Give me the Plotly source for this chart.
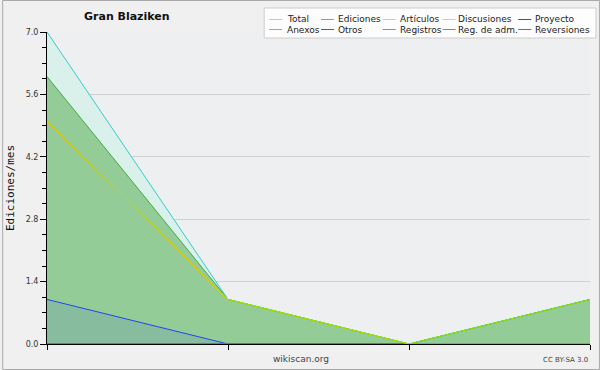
import plotly.graph_objects as go

months = [0, 1, 2, 3]
total = [7, 1, 0, 1]
ediciones = [6, 1, 0, 1]
articulos = [5, 1, 0, 1]
discusiones = [5, 1, 0, 0]
proyecto = [0, 0, 0, 0]
anexos = [0, 0, 0, 0]
otros = [0, 0, 0, 0]
registros = [1, 0, 0, 0]
reg_adm = [0, 0, 0, 0]
reversiones = [0, 0, 0, 0]

series_names = ["Total", "Ediciones", "Artículos", "Discusiones", "Proyecto",
                "Anexos", "Otros", "Registros", "Reg. de adm.", "Reversiones"]
legend_colors = ["#88dddd", "#66bb66", "#bbee33", "#ffcc33", "#555555",
                 "#ff8844", "#8833dd", "#7788ff", "#dd44ee", "#ff3333"]
y_ticks = [0, 1.4, 2.8, 4.2, 5.6, 7.0]
y_tick_text = ["0.0", "1.4", "2.8", "4.2", "5.6", "7.0"]


def px(xp):
    return (xp - 45) / 545


def py(yp):
    return (344 - yp) / 312


fig = go.Figure()

# Filled areas
fig.add_trace(go.Scatter(x=months, y=total, mode="lines", line=dict(color="#33cccc", width=1),
                         fill="tozeroy", fillcolor="#d9f1ea", showlegend=False))
fig.add_trace(go.Scatter(x=months, y=ediciones, mode="lines", line=dict(color="#44aa44", width=1),
                         fill="tozeroy", fillcolor="#94cc97", showlegend=False))
fig.add_trace(go.Scatter(x=months, y=registros, mode="lines", line=dict(color="#2244ee", width=1),
                         fill="tozeroy", fillcolor="rgba(30,60,230,0.10)", showlegend=False))
# Lines
for ys, col in [(proyecto, "#555555"), (anexos, "#ff8844"), (otros, "#8833dd"),
                (reg_adm, "#dd44ee"), (reversiones, "#ff3333")]:
    fig.add_trace(go.Scatter(x=months, y=ys, mode="lines", line=dict(color=col, width=1), showlegend=False))
fig.add_trace(go.Scatter(x=months, y=discusiones, mode="lines", line=dict(color="#eec400", width=1),
                         showlegend=False))
fig.add_trace(go.Scatter(x=months, y=articulos, mode="lines", line=dict(color="#88e800", width=1),
                         showlegend=False))
fig.add_trace(go.Scatter(x=months[:2], y=discusiones[:2], mode="lines", line=dict(color="#eec400", width=1),
                         showlegend=False))

shapes = [
    dict(type="rect", xref="paper", yref="paper", x0=px(0.5), x1=px(599.5), y0=py(369.5), y1=py(0.5),
         line=dict(color="#aaaaaa", width=1), fillcolor="rgba(0,0,0,0)", layer="below"),
]
annotations = [
    dict(text="<b>Gran Blaziken</b>", xref="paper", yref="paper", x=px(125), y=py(17),
         showarrow=False, font=dict(family="DejaVu Sans", size=11, color="#111"), xanchor="center", yanchor="middle"),
    dict(text="wikiscan.org", xref="paper", yref="paper", x=px(300), y=py(359),
         showarrow=False, font=dict(family="DejaVu Sans", size=9, color="#444"), xanchor="center", yanchor="middle"),
    dict(text="CC BY-SA 3.0", xref="paper", yref="paper", x=px(590), y=py(360),
         showarrow=False, font=dict(family="DejaVu Sans", size=7, color="#444"), xanchor="right", yanchor="middle"),
]

# Legend box (manual, built from series lists)
shapes.append(dict(type="rect", xref="paper", yref="paper", x0=px(263), x1=px(596), y0=py(38), y1=py(8),
                   line=dict(color="#cccccc", width=1), fillcolor="#fdfdfd", layer="above"))
col_line_x = [268, 320, 382, 442, 518]
col_text_x = [284, 335, 397, 456, 533]
row_y = [19.5, 29.5]
for i, (name, col) in enumerate(zip(series_names, legend_colors)):
    r, c = divmod(i, 5)
    shapes.append(dict(type="line", xref="paper", yref="paper", x0=px(col_line_x[c]), x1=px(col_line_x[c] + 13),
                       y0=py(row_y[r]), y1=py(row_y[r]), line=dict(color=col, width=1), layer="above"))
    annotations.append(dict(text=name, xref="paper", yref="paper", x=px(col_text_x[c]), y=py(row_y[r]),
                            showarrow=False, xanchor="left", yanchor="middle",
                            font=dict(family="DejaVu Sans", size=9, color="#222")))

fig.update_layout(
    width=600, height=370,
    margin=dict(l=45, r=10, t=32, b=26),
    paper_bgcolor="#f0f0f0",
    plot_bgcolor="#eeeff1",
    showlegend=False,
    shapes=shapes,
    annotations=annotations,
    xaxis=dict(range=[0, 3], tickvals=months, showticklabels=False, ticks="outside", ticklen=5,
               tickcolor="#000", showline=True, linecolor="#000", linewidth=1, showgrid=False,
               zeroline=False, fixedrange=True),
    yaxis=dict(range=[0, 7], tickvals=y_ticks, ticktext=y_tick_text, ticks="outside", ticklen=6,
               tickcolor="#000", showline=True, linecolor="#000", linewidth=1, showgrid=True,
               gridcolor="#d0d0d0", gridwidth=1, zeroline=False,
               tickfont=dict(family="DejaVu Sans", size=8, color="#333"),
               minor=dict(dtick=0.35, tick0=0, ticks="outside", ticklen=4, tickcolor="#000", showgrid=False),
               title=dict(text="Ediciones/mes", font=dict(family="DejaVu Sans Mono", size=11, color="#111"),
                          standoff=8)),
)

fig.write_html("out.html")
